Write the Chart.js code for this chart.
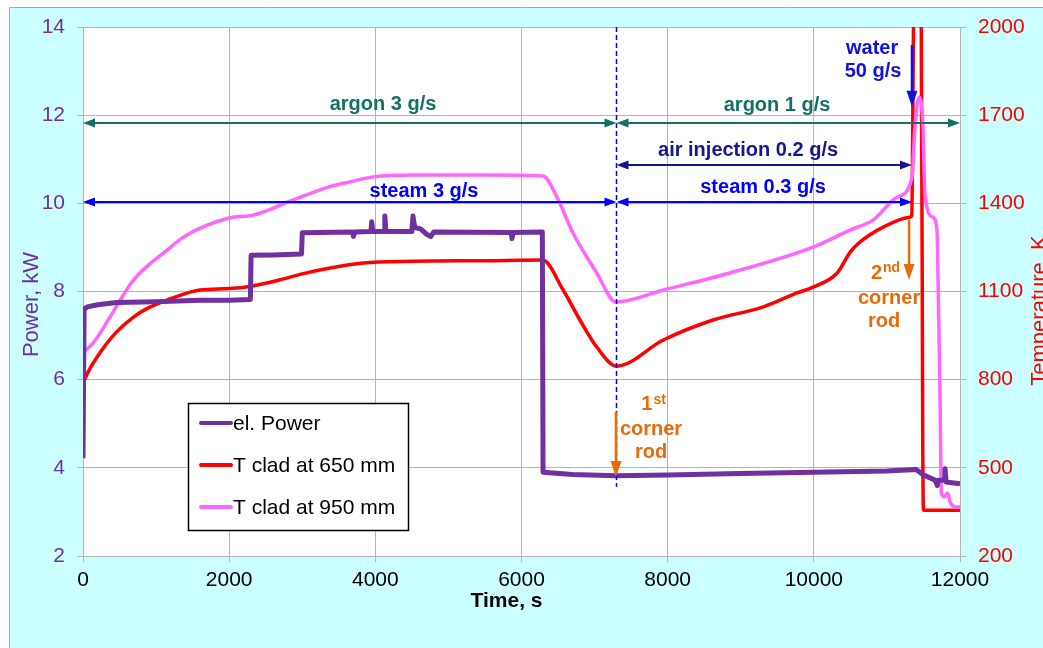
<!DOCTYPE html>
<html>
<head>
<meta charset="utf-8">
<script src="https://cdn.jsdelivr.net/npm/chart.js@4.4.1/dist/chart.umd.min.js"></script>
<style>
  html, body { margin: 0; padding: 0; background: #fff; }
  canvas { display: block; }
</style>
</head>
<body>
<canvas id="grafico" width="1043" height="648"></canvas>
<script>
// Electrical power (kW) vs time (s)
const powerTime = [0, 15, 60, 200, 460, 1000, 1600, 2000, 2290, 2300, 2600, 2990, 3000, 3690, 3700, 3720, 3940, 3950, 3965, 4120, 4130, 4145, 4500, 4515, 4540, 4620, 4700, 4760, 4800, 5860, 5870, 5885, 6285, 6295, 6700, 7300, 8000, 9000, 10000, 11000, 11400, 11500, 11660, 11690, 11700, 11790, 11795, 11810, 12000];
const powerKW   = [4.22, 7.6, 7.65, 7.7, 7.75, 7.77, 7.8, 7.8, 7.82, 8.82, 8.83, 8.85, 9.33, 9.35, 9.25, 9.35, 9.36, 9.58, 9.36, 9.36, 9.71, 9.36, 9.36, 9.71, 9.45, 9.42, 9.3, 9.25, 9.35, 9.34, 9.2, 9.34, 9.35, 3.9, 3.85, 3.82, 3.84, 3.87, 3.9, 3.93, 3.96, 3.84, 3.72, 3.6, 3.72, 3.72, 3.98, 3.68, 3.64];

// Cladding temperature at 650 mm (K)
const t650Time = [0, 100, 230, 450, 690, 900, 1150, 1600, 2000, 2300, 2700, 3000, 3380, 3830, 4500, 5500, 6290, 6570, 6800, 7030, 7300, 7940, 8620, 9300, 9770, 9990, 10320, 10500, 10630, 10950, 11315, 11340, 11370, 11420, 11470, 11490, 11500, 12000];
const t650K    = [789, 840, 891, 960, 1013, 1045, 1071, 1105, 1110, 1118, 1140, 1160, 1180, 1197, 1203, 1205, 1207, 1105, 1003, 911, 846, 935, 1003, 1047, 1095, 1115, 1163, 1235, 1268, 1319, 1353, 1360, 2100, 2150, 2000, 600, 356, 356];

// Cladding temperature at 950 mm (K)
const t950Time = [0, 140, 370, 690, 1150, 1420, 2000, 2330, 2870, 3380, 3650, 3970, 4515, 5500, 6295, 6485, 6705, 7030, 7293, 7940, 8850, 9990, 10495, 10810, 11140, 11343, 11384, 11440, 11494, 11520, 11630, 11685, 11700, 11727, 11745, 11790, 11830, 11870, 11940, 12000];
const t950K    = [891, 925, 1013, 1139, 1241, 1292, 1350, 1360, 1411, 1457, 1473, 1490, 1496, 1496, 1493, 1421, 1299, 1163, 1064, 1105, 1163, 1251, 1309, 1343, 1421, 1488, 1660, 1762, 1660, 1430, 1353, 1309, 1139, 741, 414, 401, 414, 380, 367, 367];

const seriesNames = ["el. Power", "T clad at 650 mm", "T clad at 950 mm"];
const xTicks = [0, 2000, 4000, 6000, 8000, 10000, 12000];

const FONT = "'Liberation Sans', Arial, sans-serif";
const PURPLE = "#7030a0";
const TEAL = "#137063";
const NAVY = "#16168c";
const BLUE = "#0000ff";
const ORANGE = "#e46c0a";
const GRID = "#b4b4b4";

// Flow regime arrows (time from/to in s, level in kW)
const flowArrows = [
  { from: 0, to: 7300, level: 11.82, color: TEAL },
  { from: 7300, to: 12000, level: 11.82, color: TEAL },
  { from: 7300, to: 11343, level: 10.87, color: NAVY },
  { from: 0, to: 7300, level: 10.03, color: BLUE },
  { from: 7300, to: 11343, level: 10.03, color: BLUE },
];
const flowLabels = [
  { text: "argon 3 g/s", t: 4105, level: 12.25, color: TEAL },
  { text: "argon 1 g/s", t: 9497, level: 12.23, color: TEAL },
  { text: "air injection 0.2 g/s", t: 9100, level: 11.21, color: NAVY },
  { text: "steam 3 g/s", t: 4666, level: 10.28, color: BLUE },
  { text: "steam 0.3 g/s", t: 9305, level: 10.35, color: BLUE },
  { text: "water", t: 10797, level: 13.52, color: "#1111dd" },
  { text: "50 g/s", t: 10810, level: 12.98, color: "#1111dd" },
  { text: "corner", t: 7772, level: 4.86, color: ORANGE },
  { text: "rod", t: 7772, level: 4.34, color: ORANGE },
  { text: "corner", t: 11029, level: 7.85, color: ORANGE },
  { text: "rod", t: 10960, level: 7.31, color: ORANGE },
];
const ordinalLabels = [
  { base: "1", sup: "st", t: 7800, level: 5.43 },
  { base: "2", sup: "nd", t: 10974, level: 8.42 },
];
const downArrows = [
  { t: 11343, from: 13.59, to: 12.19, color: "#1111dd" },
  { t: 7293, from: 5.27, to: 3.79, color: ORANGE },
  { t: 11303, from: 9.62, to: 8.26, color: ORANGE },
];

function toPoints(xs, ys) {
  return xs.map((x, i) => ({ x: x, y: ys[i] }));
}

function head(ctx, x, y, angle, len, half) {
  ctx.save();
  ctx.translate(x, y);
  ctx.rotate(angle);
  ctx.beginPath();
  ctx.moveTo(0, 0);
  ctx.lineTo(-len, -half);
  ctx.lineTo(-len, half);
  ctx.closePath();
  ctx.fill();
  ctx.restore();
}

// Background: cyan frame + white plot area
const fundo = {
  id: "fundo",
  beforeDraw(chart) {
    const ctx = chart.ctx;
    const a = chart.chartArea;
    ctx.save();
    ctx.fillStyle = "#ffffff";
    ctx.fillRect(0, 0, chart.width, chart.height);
    ctx.fillStyle = "#ccffff";
    ctx.fillRect(10, 7, chart.width - 10, chart.height - 7);
    ctx.strokeStyle = "#a8a8a8";
    ctx.lineWidth = 1;
    ctx.beginPath();
    ctx.moveTo(9.5, chart.height);
    ctx.lineTo(9.5, 7.5);
    ctx.lineTo(chart.width, 7.5);
    ctx.stroke();
    ctx.fillStyle = "#ffffff";
    ctx.fillRect(a.left, a.top, a.right - a.left, a.bottom - a.top);
    ctx.restore();
  },
};

// Annotations, axis titles and legend
const anotacoes = {
  id: "anotacoes",
  afterDatasetsDraw(chart) {
    const ctx = chart.ctx;
    const sx = chart.scales.x;
    const sy = chart.scales.y;
    const a = chart.chartArea;
    ctx.save();

    // vertical dashed line at 7300 s
    ctx.strokeStyle = BLUE;
    ctx.lineWidth = 1.5;
    ctx.setLineDash([5, 3]);
    ctx.beginPath();
    ctx.moveTo(sx.getPixelForValue(7300), sy.getPixelForValue(14));
    ctx.lineTo(sx.getPixelForValue(7300), sy.getPixelForValue(3.57));
    ctx.stroke();
    ctx.setLineDash([]);

    flowArrows.forEach((f) => {
      const x1 = sx.getPixelForValue(f.from);
      const x2 = sx.getPixelForValue(f.to);
      const y = sy.getPixelForValue(f.level);
      ctx.strokeStyle = f.color;
      ctx.fillStyle = f.color;
      ctx.lineWidth = 2;
      ctx.beginPath();
      ctx.moveTo(x1 + 6, y);
      ctx.lineTo(x2 - 6, y);
      ctx.stroke();
      head(ctx, x1, y, Math.PI, 12, 4.5);
      head(ctx, x2, y, 0, 12, 4.5);
    });

    downArrows.forEach((d) => {
      const x = sx.getPixelForValue(d.t);
      const y1 = sy.getPixelForValue(d.from);
      const y2 = sy.getPixelForValue(d.to);
      ctx.strokeStyle = d.color;
      ctx.fillStyle = d.color;
      ctx.lineWidth = 2.5;
      ctx.beginPath();
      ctx.moveTo(x, y1);
      ctx.lineTo(x, y2 - 8);
      ctx.stroke();
      head(ctx, x, y2, Math.PI / 2, 16, 5.5);
    });

    ctx.textAlign = "center";
    ctx.textBaseline = "middle";
    flowLabels.forEach((l) => {
      ctx.font = "bold 20px " + FONT;
      ctx.fillStyle = l.color;
      ctx.fillText(l.text, sx.getPixelForValue(l.t), sy.getPixelForValue(l.level));
    });

    ordinalLabels.forEach((o) => {
      ctx.font = "bold 20px " + FONT;
      const w1 = ctx.measureText(o.base).width;
      ctx.font = "bold 14px " + FONT;
      const w2 = ctx.measureText(o.sup).width;
      const x0 = sx.getPixelForValue(o.t) - (w1 + w2) / 2;
      const y = sy.getPixelForValue(o.level);
      ctx.textAlign = "left";
      ctx.fillStyle = ORANGE;
      ctx.font = "bold 20px " + FONT;
      ctx.fillText(o.base, x0, y);
      ctx.font = "bold 14px " + FONT;
      ctx.fillText(o.sup, x0 + w1 + 1, y - 5);
    });

    // legend box inside the plot
    const lx = a.left + 105, ly = a.top + 376;
    ctx.fillStyle = "#ffffff";
    ctx.fillRect(lx, ly, 220, 127);
    ctx.strokeStyle = "#000000";
    ctx.lineWidth = 1.5;
    ctx.strokeRect(lx + 0.5, ly + 0.5, 220, 127);
    chart.data.datasets.forEach((ds, i) => {
      const y = ly + 20 + i * 42;
      ctx.strokeStyle = ds.borderColor;
      ctx.lineWidth = 4;
      ctx.lineCap = "round";
      ctx.beginPath();
      ctx.moveTo(lx + 13, y);
      ctx.lineTo(lx + 43, y);
      ctx.stroke();
      ctx.lineCap = "butt";
      ctx.fillStyle = "#000000";
      ctx.font = "21px " + FONT;
      ctx.textAlign = "left";
      ctx.textBaseline = "middle";
      ctx.fillText(ds.label, lx + 45, y + 1);
    });

    // axis titles
    ctx.textAlign = "center";
    ctx.textBaseline = "alphabetic";
    ctx.fillStyle = "#000000";
    ctx.font = "bold 21px " + FONT;
    ctx.fillText("Time, s", (a.left + a.right) / 2 - 15, a.bottom + 51);

    ctx.save();
    ctx.translate(a.left - 45, (a.top + a.bottom) / 2 + 13);
    ctx.rotate(-Math.PI / 2);
    ctx.fillStyle = PURPLE;
    ctx.font = "22px " + FONT;
    ctx.fillText("Power, kW", 0, 0);
    ctx.restore();

    ctx.save();
    ctx.translate(a.right + 86, (a.top + a.bottom) / 2 + 19);
    ctx.rotate(-Math.PI / 2);
    ctx.fillStyle = "#ff0000";
    ctx.font = "22px " + FONT;
    ctx.fillText("Temperature, K", 0, 0);
    ctx.restore();

    ctx.restore();
  },
};

new Chart(document.getElementById("grafico").getContext("2d"), {
  type: "line",
  data: {
    datasets: [
      {
        label: seriesNames[0],
        data: toPoints(powerTime, powerKW),
        yAxisID: "y",
        borderColor: PURPLE,
        borderWidth: 5,
        borderJoinStyle: "round",
        pointRadius: 0,
        tension: 0,
        order: 0,
      },
      {
        label: seriesNames[1],
        data: toPoints(t650Time, t650K),
        yAxisID: "y2",
        borderColor: "#ff0000",
        borderWidth: 3.5,
        borderJoinStyle: "round",
        pointRadius: 0,
        cubicInterpolationMode: "monotone",
        order: 2,
        clip: 0,
      },
      {
        label: seriesNames[2],
        data: toPoints(t950Time, t950K),
        yAxisID: "y2",
        borderColor: "#ff66ff",
        borderWidth: 3.5,
        borderJoinStyle: "round",
        pointRadius: 0,
        cubicInterpolationMode: "monotone",
        order: 1,
      },
    ],
  },
  options: {
    responsive: false,
    animation: false,
    devicePixelRatio: 1,
    layout: { padding: { top: 27, left: 0, right: 0, bottom: 0 } },
    plugins: {
      legend: { display: false },
      tooltip: { enabled: false },
    },
    scales: {
      x: {
        type: "linear",
        position: "bottom",
        min: 0,
        max: 12000,
        afterBuildTicks: (s) => { s.ticks = xTicks.map((v) => ({ value: v })); },
        afterFit: (s) => { s.height = 92; },
        ticks: {
          color: "#000000",
          font: { family: FONT, size: 21 },
          padding: 6,
          maxRotation: 0,
          autoSkip: false,
          callback: (v) => String(v),
        },
        grid: { color: GRID, tickLength: 6 },
        border: { color: GRID },
      },
      y: {
        position: "left",
        min: 2,
        max: 14,
        afterFit: (s) => { s.width = 83; },
        ticks: {
          stepSize: 2,
          color: PURPLE,
          font: { family: FONT, size: 21 },
          padding: 12,
          callback: (v) => String(v),
        },
        grid: { color: GRID, tickLength: 6 },
        border: { color: GRID },
      },
      y2: {
        position: "right",
        min: 200,
        max: 2000,
        afterFit: (s) => { s.width = 83; },
        ticks: {
          stepSize: 300,
          color: "#ff0000",
          font: { family: FONT, size: 21 },
          padding: 12,
          callback: (v) => String(v),
        },
        grid: { drawOnChartArea: false, color: GRID, tickLength: 6 },
        border: { color: GRID },
      },
    },
  },
  plugins: [fundo, anotacoes],
});
</script>
</body>
</html>
